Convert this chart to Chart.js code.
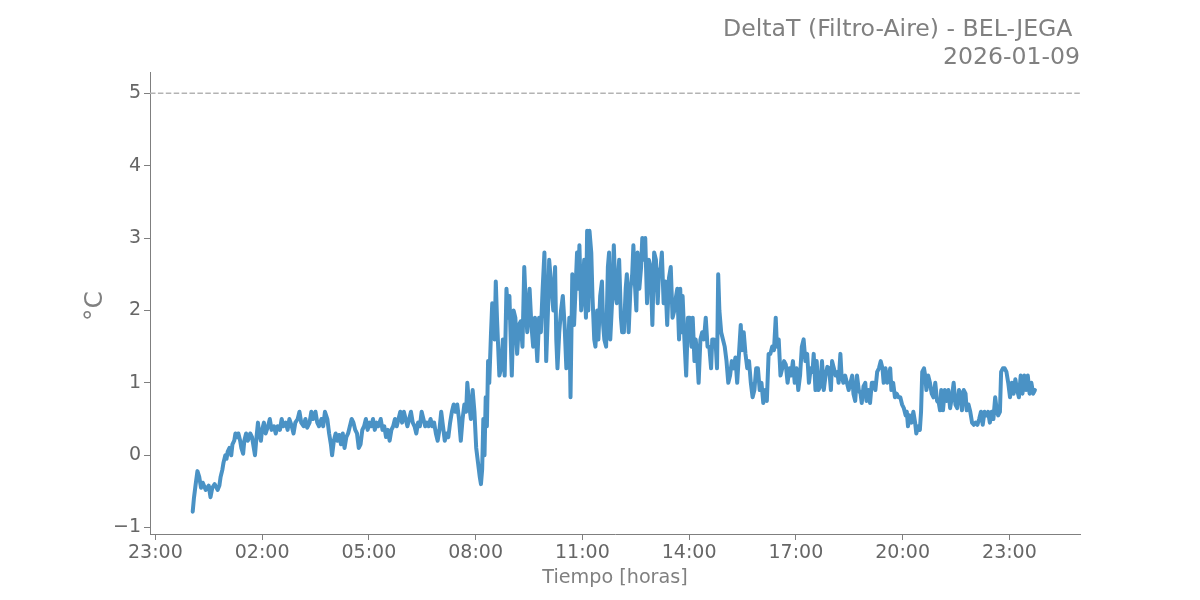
<!DOCTYPE html>
<html>
<head>
<meta charset="utf-8">
<script src="https://cdn.jsdelivr.net/npm/chart.js@4.4.1/dist/chart.umd.min.js"></script>
<style>
html,body{margin:0;padding:0;background:#ffffff;}
#c{display:block;}
</style>
</head>
<body>
<canvas id="c" width="1200" height="600"></canvas>
<script>
// Time of each reading, minutes from 00:00 of 2026-01-09
const TIME_MIN = [
3,5,8,11,14,17,20,25,30,33,36,40,45,48,50,53,55,58,60,
62,65,68,70,73,75,78,80,83,85,88,90,93,96,100,103,106,108,110,113,115,118,120,
123,126,130,133,136,140,143,146,150,153,156,160,163,166,170,173,176,180,183,186,190,193,196,200,
203,206,210,213,216,220,223,226,230,233,236,238,241,244,247,250,253,256,259,262,265,268,271,274,
277,280,283,286,289,292,295,298,301,304,307,310,313,316,320,323,326,329,332,335,338,341,344,347,
350,353,356,359,362,365,368,371,374,377,380,383,386,389,392,395,398,401,404,407,410,413,416,419,
422,425,428,431,434,437,440,443,446,449,452,455,458,461,464,466,469,472,475,478,481,484,487,489,
491,493,495,497,499,501,503,506,508,510,512,514,516,518,520,
523,526,529,532,535,537,541,544,547,550,553,556,559,562,565,567,571,574,577,580,584,587,590,593,
596,599,602,604,607,611,614,616,618,621,624,627,630,633,636,638,640,643,646,648,651,653,655,658,
660,663,666,668,
670,672,675,677,680,682,685,687,690,693,695,697,700,703,705,707,710,713,716,718,722,725,727,730,
733,735,738,741,744,746,749,751,753,756,759,761,764,766,769,772,775,778,781,784,787,789,792,794,
797,800,803,806,809,812,815,818,820,823,
825,827,829,832,835,838,841,844,846,849,851,853,856,859,862,865,868,871,874,877,879,882,885,887,
889,891,894,897,900,903,906,909,912,915,918,921,924,927,929,932,935,938,941,944,947,950,953,956,
959,962,965,968,971,974,
977,980,983,986,988,991,994,997,1000,1003,1006,1009,1012,1015,1018,1021,1024,1027,1030,1033,1036,
1039,1042,1045,1048,1050,1053,1055,1058,1061,1064,1067,1070,1073,1076,1079,1081,1084,1087,1090,
1092,1095,1097,1100,1103,1106,1109,1112,1115,1117,1120,
1123,1126,1129,1131,1134,1137,1139,1142,1145,1148,1151,1154,1157,1160,1163,1166,1168,1171,1174,
1177,1179,1181,1184,1187,1190,1193,1196,1199,1202,1205,1207,1209,1212,1215,1218,1221,1223,1226,
1229,1231,1233,1236,1238,1240,1243,1246,1249,1252,1255,1258,1261,1263,1265,1268,1271,
1274,1277,1280,1283,1286,1289,1292,1295,1298,1300,1303,1306,1308,1311,1314,1317,1320,1323,1326,
1329,1332,1335,1338,1341,1344,1347,1350,1353,1356,1359,1361,1364,1366,1369,1372,1375,1378,1381,
1384,1387,1390,1393,1396,1399,1402,1405,1408,1411,1414,1417,1420,1423
];

// DeltaT (Filtro-Aire) readings, °C
const DELTA_T = [
-0.78,-0.6,-0.4,-0.22,-0.3,-0.45,-0.38,-0.48,-0.42,-0.58,-0.45,-0.4,-0.48,-0.42,-0.3,-0.2,-0.1,0.0,-0.05,
0.05,0.1,0.0,0.15,0.2,0.3,0.25,0.3,0.2,0.1,0.02,0.2,0.3,0.2,0.3,0.25,0.1,0.0,0.2,0.45,0.3,0.2,0.35,
0.45,0.3,0.4,0.5,0.35,0.4,0.3,0.4,0.35,0.5,0.4,0.45,0.35,0.5,0.4,0.3,0.45,0.5,0.6,0.45,0.4,0.5,0.38,0.45,
0.6,0.5,0.6,0.45,0.4,0.5,0.4,0.6,0.5,0.3,0.15,0.0,0.2,0.3,0.2,0.28,0.15,0.3,0.1,0.25,0.3,0.4,0.5,0.45,
0.35,0.3,0.1,0.15,0.35,0.4,0.5,0.35,0.45,0.4,0.5,0.35,0.45,0.4,0.5,0.35,0.4,0.25,0.35,0.2,0.35,0.4,0.5,0.4,
0.5,0.6,0.45,0.6,0.5,0.4,0.5,0.6,0.45,0.4,0.3,0.45,0.4,0.6,0.5,0.4,0.45,0.4,0.5,0.4,0.45,0.3,0.2,0.35,
0.6,0.4,0.2,0.3,0.25,0.45,0.6,0.7,0.6,0.7,0.5,0.2,0.5,0.7,0.6,1.0,0.7,0.5,0.9,0.6,0.1,-0.1,-0.3,-0.4,
-0.2,0.5,0.0,0.8,0.4,1.3,1.0,1.7,2.1,1.8,1.6,2.4,1.9,1.5,1.1,
1.2,1.6,1.1,2.3,1.9,2.2,1.1,2.0,1.9,1.4,1.8,1.85,1.5,2.6,2.0,1.7,2.3,1.8,1.5,1.9,1.3,1.9,1.7,2.3,
2.8,1.3,2.0,2.7,2.4,2.0,2.6,1.6,1.2,1.7,2.0,2.2,1.8,1.2,1.5,1.9,0.8,2.5,1.8,2.2,2.8,2.3,2.9,2.0,
2.2,2.7,1.9,3.1,
2.0,3.1,2.8,2.2,1.6,1.5,2.0,1.6,2.2,2.4,1.8,1.6,1.5,2.6,2.8,1.6,2.1,2.9,2.2,2.1,2.7,1.9,1.7,1.7,
2.3,2.5,1.7,2.3,2.5,2.9,2.3,2.0,2.8,2.3,2.6,3.0,2.7,3.0,2.1,2.7,2.6,1.8,2.8,2.7,2.1,2.5,2.6,2.8,
2.1,2.4,1.8,2.45,2.6,1.9,2.0,2.2,2.3,1.6,
2.3,1.7,2.2,1.6,1.1,1.9,1.9,1.5,1.9,1.3,1.6,1.45,1.0,1.6,1.7,1.6,1.9,1.5,1.5,1.2,1.6,1.6,1.5,1.2,
2.5,2.0,1.7,1.6,1.5,1.3,1.0,1.1,1.3,1.2,1.35,1.0,1.4,1.8,1.45,1.7,1.4,1.2,1.3,1.0,0.8,0.9,1.2,1.2,
0.9,1.0,0.72,0.9,0.75,1.4,
1.4,1.5,1.45,1.9,1.5,1.6,1.1,1.2,1.3,1.25,1.0,1.2,1.1,1.3,1.0,1.2,0.9,1.1,1.5,1.6,1.3,
1.4,1.0,1.2,1.15,1.4,0.9,1.3,0.9,0.95,1.3,0.9,1.1,1.22,1.2,0.9,1.3,1.2,1.1,1.15,
1.0,1.4,1.1,1.0,1.1,1.0,0.9,1.0,1.1,0.85,0.75,
1.1,0.9,0.85,0.72,0.95,1.0,0.75,0.9,0.72,1.0,1.0,0.9,1.15,1.2,1.3,1.2,1.0,1.2,1.0,
1.1,1.2,0.9,1.0,0.8,0.85,0.8,0.8,0.7,0.65,0.55,0.6,0.4,0.55,0.45,0.6,0.45,0.3,0.4,
0.35,0.6,1.15,1.2,1.1,0.9,1.1,1.0,0.85,0.8,1.0,0.75,0.72,0.62,0.9,0.62,0.9,
0.75,0.9,0.65,0.8,1.0,0.7,0.65,0.9,0.85,0.62,0.9,0.85,0.62,0.7,0.6,0.45,0.42,0.45,0.42,
0.5,0.6,0.42,0.6,0.55,0.6,0.45,0.6,0.5,0.8,0.6,0.55,0.6,1.15,1.2,1.2,1.15,1.0,0.8,
1.0,0.85,1.05,0.9,0.8,1.1,0.85,1.1,0.9,1.1,0.85,1.0,0.85,0.9
];

const TICK_MINUTES = [-60, 120, 300, 480, 660, 840, 1020, 1200, 1380];
const TICK_LABELS = ['23:00', '02:00', '05:00', '08:00', '11:00', '14:00', '17:00', '20:00', '23:00'];
const Y_TICKS = [-1, 0, 1, 2, 3, 4, 5];
const THRESHOLD = 5;
const X_MIN = -69, X_MAX = 1499;
const Y_MIN = -1.089, Y_MAX = 5.295;
const TITLE_LINES = ['DeltaT (Filtro-Aire) - BEL-JEGA ', '2026-01-09'];
const X_TITLE = 'Tiempo [horas]';
const Y_TITLE = '°C';

const FONT = '"DejaVu Sans", sans-serif';
const AXIS_GRAY = '#7f7f7f';
const TICK_GRAY = '#666666';
const TEXT_GRAY = '#808080';

const textPlugin = {
  id: 'texts',
  afterDraw(chart) {
    const ctx = chart.ctx;
    const area = chart.chartArea;
    ctx.save();
    ctx.fillStyle = TEXT_GRAY;
    ctx.font = '23.6px ' + FONT;
    ctx.textAlign = 'right';
    ctx.textBaseline = 'alphabetic';
    ctx.fillText(TITLE_LINES[0], area.right, 36);
    ctx.fillText(TITLE_LINES[1], area.right, 64);
    ctx.font = '19.2px ' + FONT;
    ctx.textAlign = 'center';
    ctx.fillText(X_TITLE, (area.left + area.right) / 2, 583);
    ctx.font = '25px ' + FONT;
    ctx.translate(102, (area.top + area.bottom) / 2 + 3);
    ctx.rotate(-Math.PI / 2);
    ctx.textAlign = 'center';
    ctx.fillText(Y_TITLE, 0, 0);
    ctx.restore();
  }
};

new Chart(document.getElementById('c'), {
  type: 'line',
  data: {
    datasets: [
      {
        data: TIME_MIN.map((t, i) => ({ x: t, y: DELTA_T[i] })),
        borderColor: '#4a92c5',
        borderWidth: 4,
        pointRadius: 0,
        tension: 0,
        fill: false,
        borderJoinStyle: 'round',
        borderCapStyle: 'round'
      },
      {
        data: [{ x: X_MIN, y: THRESHOLD }, { x: X_MAX, y: THRESHOLD }],
        borderColor: '#b3b3b3',
        borderWidth: 1.5,
        borderDash: [5.5, 2.4],
        pointRadius: 0,
        fill: false
      }
    ]
  },
  options: {
    responsive: false,
    animation: false,
    layout: { padding: { left: 0, right: 120, top: 72, bottom: 0 } },
    plugins: { legend: { display: false }, tooltip: { enabled: false }, title: { display: false } },
    scales: {
      x: {
        type: 'linear',
        min: X_MIN,
        max: X_MAX,
        afterBuildTicks: s => { s.ticks = TICK_MINUTES.map(v => ({ value: v })); },
        afterFit: s => { s.height = 66; },
        ticks: {
          autoSkip: false,
          maxRotation: 0,
          padding: 2,
          color: TICK_GRAY,
          font: { family: FONT, size: 19 },
          callback: v => TICK_LABELS[TICK_MINUTES.indexOf(v)]
        },
        grid: { drawOnChartArea: false, drawTicks: true, tickLength: 6, color: AXIS_GRAY },
        border: { display: true, color: AXIS_GRAY, width: 1 }
      },
      y: {
        min: Y_MIN,
        max: Y_MAX,
        afterBuildTicks: s => { s.ticks = Y_TICKS.map(v => ({ value: v })); },
        afterFit: s => { s.width = 150; },
        ticks: {
          padding: 3,
          color: TICK_GRAY,
          font: { family: FONT, size: 19 },
          callback: v => (v < 0 ? '\u2212' + Math.abs(v) : String(v))
        },
        grid: { drawOnChartArea: false, drawTicks: true, tickLength: 6, color: AXIS_GRAY },
        border: { display: true, color: AXIS_GRAY, width: 1 }
      }
    }
  },
  plugins: [textPlugin]
});
</script>
</body>
</html>
